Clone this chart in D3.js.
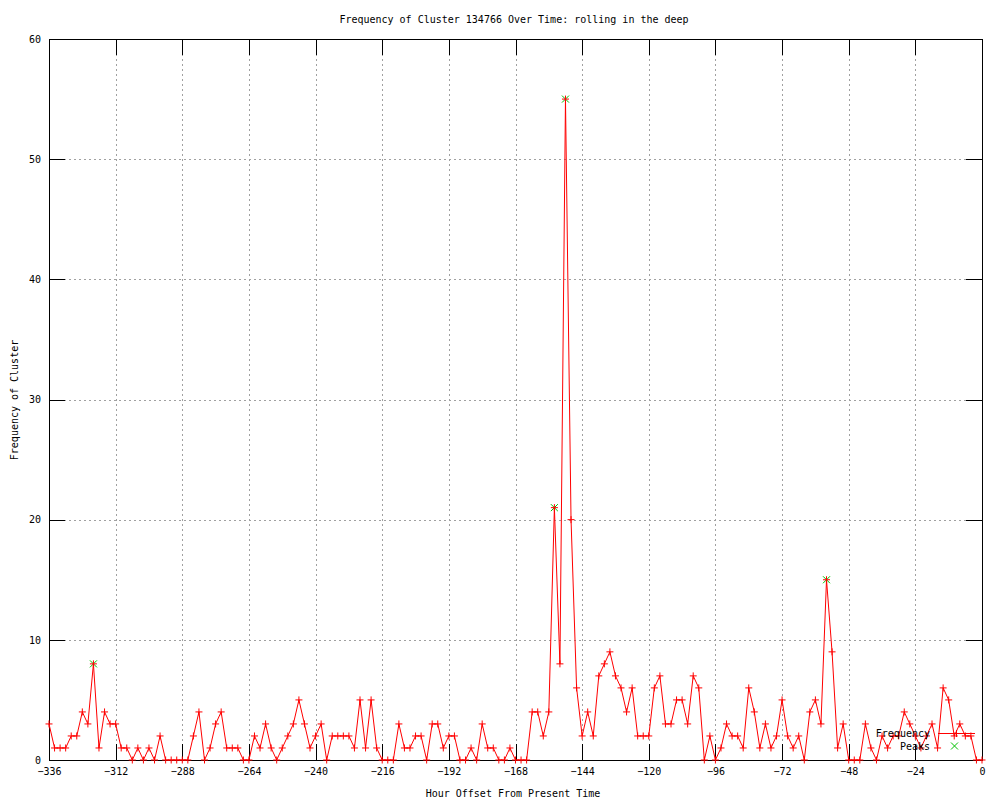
<!DOCTYPE html>
<html>
<head>
<meta charset="utf-8">
<script src="https://cdn.jsdelivr.net/npm/d3@7"></script>
<style>
  html, body { margin: 0; padding: 0; background: #fff; }
  svg { display: block; }
  text { font-family: "DejaVu Sans Mono", "Liberation Mono", monospace; font-size: 10px; fill: #000; }
</style>
</head>
<body>
<svg id="chart" width="1000" height="800"></svg>
<script>
// ---- data ----
const title = "Frequency of Cluster 134766 Over Time: rolling in the deep";
const xLabel = "Hour Offset From Present Time";
const yLabel = "Frequency of Cluster";
const hours = d3.range(-336, 1, 2);
const frequency = [
  3,1,1,1,2,2,4,3,8,1, 4,3,3,1,1,0,1,0,1,0,
  2,0,0,0,0,0,2,4,0,1, 3,4,1,1,1,0,0,2,1,3,
  1,0,1,2,3,5,3,1,2,3, 0,2,2,2,2,1,5,1,5,1,
  0,0,0,3,1,1,2,2,0,3, 3,1,2,2,0,0,1,0,3,1,
  1,0,0,1,0,0,0,4,4,2, 4,21,8,55,20,6,2,4,2,7,
  8,9,7,6,4,6,2,2,2,6, 7,3,3,5,5,3,7,6,0,2,
  0,1,3,2,2,1,6,4,1,3, 1,2,5,2,1,2,0,4,5,3,
  15,9,1,3,0,0,0,3,1,0, 2,1,2,2,4,3,2,1,2,3,
  1,6,5,2,3,2,2,0,0
];
const peakHours = [-320, -154, -150, -56];
const peakValues = [8, 21, 55, 15];
const xTicks = [-336,-312,-288,-264,-240,-216,-192,-168,-144,-120,-96,-72,-48,-24,0];
const yTicks = [0,10,20,30,40,50,60];
const legendLabels = ["Frequency", "Peaks"];

// ---- layout ----
const svg = d3.select("#chart");
const L = 49, R = 982, T = 39, B = 760;
const x = d3.scaleLinear().domain([-336, 0]).range([L, R]);
const y = d3.scaleLinear().domain([0, 60]).range([B, T]);
const red = "#ff0000", green = "#00c000", grid = "#a0a0a0";
const tickLen = 16;

// grid
const g = svg.append("g").attr("shape-rendering", "crispEdges");
g.selectAll(".gx").data(xTicks.filter(t => t !== -336 && t !== 0)).enter().append("line")
  .attr("x1", d => Math.round(x(d)) + 0.5).attr("x2", d => Math.round(x(d)) + 0.5)
  .attr("y1", T).attr("y2", B)
  .attr("stroke", grid).attr("stroke-dasharray", "2,3");
g.selectAll(".gy").data(yTicks.filter(t => t !== 0 && t !== 60)).enter().append("line")
  .attr("x1", L).attr("x2", R)
  .attr("y1", d => Math.round(y(d)) + 0.5).attr("y2", d => Math.round(y(d)) + 0.5)
  .attr("stroke", grid).attr("stroke-dasharray", "2,3");

// axes with inward ticks (bottom/left labelled, top/right mirrored)
const axB = d3.axisBottom(x).tickValues(xTicks).tickSize(-tickLen).tickPadding(tickLen + 5).tickFormat(d3.format("d"));
const axT = d3.axisTop(x).tickValues(xTicks).tickSize(-tickLen).tickFormat("");
const axL = d3.axisLeft(y).tickValues(yTicks).tickSize(-tickLen).tickPadding(tickLen + 6).tickFormat(d3.format("d"));
const axR = d3.axisRight(y).tickValues(yTicks).tickSize(-tickLen).tickFormat("");

function styleAxis(sel) {
  sel.attr("shape-rendering", "crispEdges");
  sel.select(".domain").remove();
  sel.selectAll(".tick line").attr("stroke", "#000");
  sel.selectAll("text").attr("font-family", "DejaVu Sans Mono").attr("font-size", 10).attr("fill", "#000");
}
svg.append("g").attr("transform", `translate(0,${B})`).call(axB).call(styleAxis)
  .selectAll("text").attr("dy", null).attr("y", 15);
svg.append("g").attr("transform", `translate(0,${T})`).call(axT).call(styleAxis);
svg.append("g").attr("transform", `translate(${L},0)`).call(axL).call(styleAxis)
  .selectAll("text").attr("x", -8);
svg.append("g").attr("transform", `translate(${R},0)`).call(axR).call(styleAxis);

// border
svg.append("rect").attr("x", L + 0.5).attr("y", T + 0.5).attr("width", R - L).attr("height", B - T)
  .attr("fill", "none").attr("stroke", "#000").attr("shape-rendering", "crispEdges");

const pts = hours.map((h, i) => [h, frequency[i]]);
const ps = 3.5;
function plusPath(cx, cy) { return `M${cx - ps},${cy}H${cx + ps}M${cx},${cy - ps}V${cy + ps}`; }
function crossPath(cx, cy) { const s = 3.5; return `M${cx - s},${cy - s}L${cx + s},${cy + s}M${cx - s},${cy + s}L${cx + s},${cy - s}`; }

// peaks (underneath)
svg.append("g").selectAll("path").data(peakHours.map((h, i) => [h, peakValues[i]])).enter().append("path")
  .attr("d", d => crossPath(x(d[0]), y(d[1]))).attr("stroke", green).attr("stroke-width", 1).attr("fill", "none");

// data line
const line = d3.line().x(d => x(d[0])).y(d => y(d[1]));
svg.append("path").datum(pts).attr("d", line).attr("fill", "none").attr("stroke", red).attr("stroke-width", 1);

// plus markers
svg.append("g").selectAll("path").data(pts).enter().append("path")
  .attr("d", d => plusPath(x(d[0]), y(d[1]))).attr("stroke", red).attr("stroke-width", 1).attr("fill", "none");

// legend
const lx1 = 938, lx2 = 975, lTextX = 930;
const ly1 = 733, ly2 = 746;
svg.append("text").attr("x", lTextX).attr("y", ly1).attr("dy", "0.35em").attr("text-anchor", "end").text(legendLabels[0]);
svg.append("line").attr("x1", lx1).attr("x2", lx2).attr("y1", ly1 + 0.5).attr("y2", ly1 + 0.5).attr("stroke", red).attr("shape-rendering", "crispEdges");
svg.append("path").attr("d", plusPath((lx1 + lx2) / 2, ly1 + 0.5)).attr("stroke", red);
svg.append("text").attr("x", lTextX).attr("y", ly2).attr("dy", "0.35em").attr("text-anchor", "end").text(legendLabels[1]);
svg.append("path").attr("d", crossPath((lx1 + lx2) / 2 - 2, ly2)).attr("stroke", green).attr("fill", "none");

// titles
svg.append("text").attr("x", 514).attr("y", 19).attr("dy", "0.35em").attr("text-anchor", "middle").text(title);
svg.append("text").attr("x", 513).attr("y", 793).attr("dy", "0.35em").attr("text-anchor", "middle").text(xLabel);
svg.append("text").attr("transform", "translate(14,400) rotate(-90)").attr("dy", "0.35em").attr("text-anchor", "middle").text(yLabel);
</script>
</body>
</html>
